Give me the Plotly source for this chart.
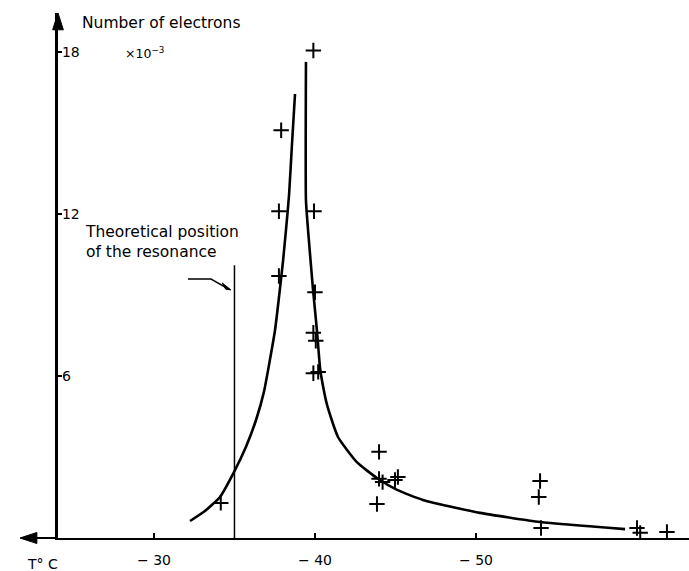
import plotly.graph_objects as go

# Measured data points (temperature in °C, number of electrons ×10^-3)
temp_pts = [-39.9, -37.9, -37.76, -39.94, -37.76, -40.0, -39.9, -40.05, -39.9, -40.2,
            -43.98, -43.98, -44.2, -45.15, -44.97, -43.85, -34.15,
            -53.98, -53.9, -54.04, -60.0, -60.2, -61.86]
elec_pts = [18.05, 15.1, 12.1, 12.1, 9.7, 9.1, 7.6, 7.3, 6.1, 6.15,
            3.19, 2.19, 2.07, 2.26, 2.15, 1.26, 1.3,
            2.11, 1.52, 0.37, 0.37, 0.19, 0.22]

# Fitted curve, left branch
left_T = [-32.24, -33.17, -34.10, -34.97, -35.71, -36.34, -36.83, -37.2, -37.52, -37.76,
          -38.01, -38.2, -38.39, -38.57, -38.76]
left_N = [0.63, 1.0, 1.52, 2.44, 3.37, 4.37, 5.41, 6.59, 7.70, 8.89,
          10.22, 11.41, 12.70, 14.56, 16.44]

# Fitted curve, right branch
right_T = [-39.44, -39.44, -39.57, -39.88, -40.12, -40.31, -40.43, -40.75, -41.43, -42.6,
           -43.85, -45.1, -46.7, -48.8, -50.25, -53.98, -59.26]
right_N = [17.63, 12.5, 11.4, 9.19, 7.7, 6.33, 5.85, 4.93, 3.74, 2.81,
           2.22, 1.78, 1.41, 1.11, 0.93, 0.59, 0.33]

x_ticks = [-30, -40, -50]
x_tick_text = ["\u2212 30", "\u2212 40", "\u2212 50"]
y_ticks = [6, 12, 18]
y_tick_text = ["6", "12", "18"]

resonance_T = -35.0
resonance_top = 10.1

FONT = "DejaVu Sans"

fig = go.Figure()
fig.add_trace(go.Scatter(x=left_T, y=left_N, mode="lines",
                         line=dict(color="black", width=2.6, shape="spline", smoothing=0.5),
                         showlegend=False))
fig.add_trace(go.Scatter(x=right_T, y=right_N, mode="lines",
                         line=dict(color="black", width=2.6, shape="spline", smoothing=0.5),
                         showlegend=False))
fig.add_trace(go.Scatter(x=temp_pts, y=elec_pts, mode="markers",
                         marker=dict(symbol="cross-thin", size=11,
                                     line=dict(color="black", width=2)),
                         showlegend=False))

# theoretical resonance line
fig.add_trace(go.Scatter(x=[resonance_T, resonance_T], y=[0, resonance_top], mode="lines",
                         line=dict(color="black", width=1.5), showlegend=False))

shapes = [
    # pointer from the label to the resonance line
    dict(type="path", xref="x", yref="y",
         path="M -32.11,9.59 L -33.54,9.59 L -34.7,9.2",
         line=dict(color="black", width=1.5)),
    dict(type="path", xref="x", yref="y",
         path="M -34.78,9.185 L -34.45,9.215 L -34.24,9.444 Z",
         line=dict(color="black", width=1), fillcolor="black"),
    # y-axis arrowhead
    dict(type="path", xref="paper", yref="paper",
         path="M 0,1 L -0.0085,0.968 L 0.0085,0.968 Z",
         line=dict(color="black", width=1), fillcolor="black"),
    # x-axis extension and arrowhead to the left
    dict(type="line", xref="paper", yref="paper", x0=-0.05, x1=0, y0=0, y1=0,
         line=dict(color="black", width=2)),
    dict(type="path", xref="paper", yref="paper",
         path="M -0.0602,0 L -0.0335,0.0105 L -0.0335,-0.0105 Z",
         line=dict(color="black", width=1), fillcolor="black"),
]

fig.add_annotation(x=(83 - 58) / 631, y=11.75, xref="paper", yref="y",
                   xanchor="left", yanchor="top",
                   text="Theoretical position<br>of the resonance", showarrow=False,
                   align="left", font=dict(family=FONT, size=15.5, color="black"))

# axis labels
fig.add_annotation(x=(80 - 58) / 631, y=1.0, xref="paper", yref="paper",
                   xanchor="left", yanchor="middle",
                   yshift=-10, text="Number of electrons", showarrow=False,
                   font=dict(family=FONT, size=15.5, color="black"))
fig.add_annotation(x=(123 - 58) / 631, y=17.95, xref="paper", yref="y",
                   xanchor="left", yanchor="middle",
                   text="\u00d710<sup>\u22123</sup>", showarrow=False,
                   font=dict(family=FONT, size=12.5, color="black"))
fig.add_annotation(x=(42 - 58) / 631, y=0, xref="paper", yref="paper",
                   xanchor="center", yanchor="top",
                   yshift=-16, text="T\u00b0 C", showarrow=False,
                   font=dict(family=FONT, size=14, color="black"))

fig.update_layout(
    width=689, height=571,
    margin=dict(l=58, r=0, t=13, b=33),
    paper_bgcolor="white", plot_bgcolor="white",
    font=dict(family=FONT, size=14, color="black"),
    shapes=shapes,
    xaxis=dict(range=[-24.04, -63.23], showgrid=False, zeroline=False,
               showline=True, linecolor="black", linewidth=2,
               tickmode="array", tickvals=x_ticks, ticktext=x_tick_text,
               ticks="inside", ticklen=5, tickwidth=1.5, tickcolor="black",
               ticklabelstandoff=8,
               tickfont=dict(family=FONT, size=14, color="black")),
    yaxis=dict(range=[0, 19.44], showgrid=False, zeroline=False,
               showline=True, linecolor="black", linewidth=2.5,
               tickmode="array", tickvals=y_ticks, ticktext=y_tick_text,
               ticks="inside", ticklen=4, tickwidth=1.5, tickcolor="black",
               ticklabelposition="inside",
               tickfont=dict(family=FONT, size=14, color="black")),
)

fig.write_html("out.html")
